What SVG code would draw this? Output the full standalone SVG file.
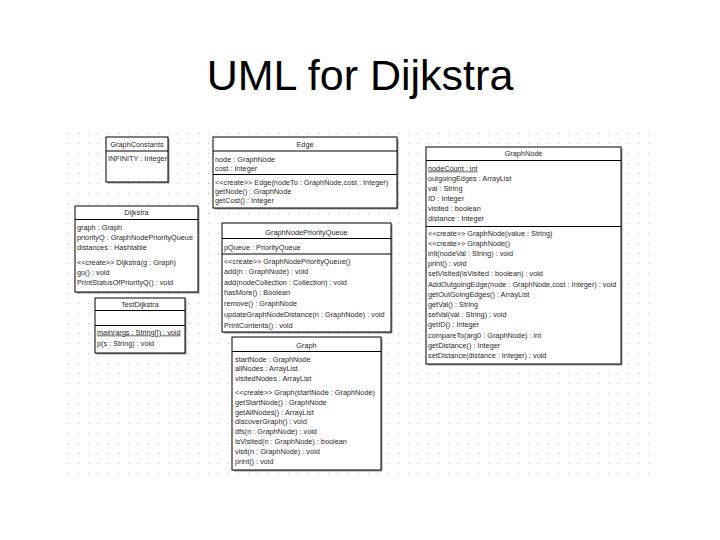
<svg xmlns="http://www.w3.org/2000/svg" width="720" height="540" viewBox="0 0 720 540">
<defs>
<pattern id="dots" x="65" y="130" width="10" height="10" patternUnits="userSpaceOnUse">
<rect x="3" y="3" width="1.2" height="1.2" fill="#bdbdbd"/>
</pattern>
<style>
.box{fill:#fff;stroke:#000;stroke-width:1}
.sh{fill:#9a9a9a}
.ln{stroke:#000;stroke-width:1}
.t{font-family:"Liberation Sans",Arial,sans-serif;font-size:7.3px;fill:#2a2a2a}
.c{text-anchor:middle}
.u{text-decoration:underline}
.h{font-family:"Liberation Sans",Arial,sans-serif;font-size:43px;fill:#000;text-anchor:middle}
</style>
</defs>
<rect width="720" height="540" fill="#fff"/>
<text class="h" x="360" y="90">UML for Dijkstra</text>
<rect x="65" y="130" width="587" height="352" fill="url(#dots)"/>

<g id="GraphConstants">
<rect class="sh" x="107.5" y="138.5" width="62" height="45"/>
<rect class="box" x="106" y="137" width="62" height="45"/>
<text class="t c" x="137" y="147">GraphConstants</text>
<line class="ln" x1="106" y1="151" x2="168" y2="151"/>
<text class="t" x="108" y="160.5">INFINITY : Integer</text>
</g>

<g id="Edge">
<rect class="sh" x="214.5" y="138.5" width="184" height="71"/>
<rect class="box" x="213" y="137" width="184" height="71"/>
<text class="t c" x="305" y="146.5">Edge</text>
<line class="ln" x1="213" y1="151" x2="397" y2="151"/>
<text class="t" x="215" y="161.5">node : GraphNode</text>
<text class="t" x="215" y="170.5">cost : Integer</text>
<line class="ln" x1="213" y1="174.5" x2="397" y2="174.5"/>
<text class="t" x="215" y="184.5">&lt;&lt;create&gt;&gt; Edge(nodeTo : GraphNode,cost : Integer)</text>
<text class="t" x="215" y="193.5">getNode() : GraphNode</text>
<text class="t" x="215" y="202.5">getCost() : Integer</text>
</g>

<g id="Dijkstra">
<rect class="sh" x="76.5" y="207.5" width="123" height="86"/>
<rect class="box" x="75" y="206" width="123" height="86"/>
<text class="t c" x="136.5" y="214.5">Dijkstra</text>
<line class="ln" x1="75" y1="219.5" x2="198" y2="219.5"/>
<text class="t" x="77" y="229.5">graph : Graph</text>
<text class="t" x="77" y="239.5">priorityQ : GraphNodePriorityQueue</text>
<text class="t" x="77" y="249.5">distances : Hashtable</text>
<text class="t" x="77" y="264.5">&lt;&lt;create&gt;&gt; Dijkstra(g : Graph)</text>
<text class="t" x="77" y="274.5">go() : void</text>
<text class="t" x="77" y="285">PrintStatusOfPriorityQ() : void</text>
</g>

<g id="TestDijkstra">
<rect class="sh" x="96.5" y="299.5" width="90" height="55"/>
<rect class="box" x="95" y="298" width="90" height="55"/>
<text class="t c" x="140" y="306.5">TestDijkstra</text>
<line class="ln" x1="95" y1="310.5" x2="185" y2="310.5"/>
<line class="ln" x1="95" y1="325.5" x2="185" y2="325.5"/>
<text class="t u" x="97" y="334.5">main(args : String[]) : void</text>
<text class="t" x="97" y="345.5">p(s : String) : void</text>
</g>

<g id="GraphNodePriorityQueue">
<rect class="sh" x="223.5" y="224.5" width="169" height="109"/>
<rect class="box" x="222" y="223" width="169" height="109"/>
<text class="t c" x="306.5" y="234.5">GraphNodePriorityQueue</text>
<line class="ln" x1="222" y1="238.5" x2="391" y2="238.5"/>
<text class="t" x="224" y="249.5">pQueue : PriorityQueue</text>
<line class="ln" x1="222" y1="254" x2="391" y2="254" stroke="#bbb"/>
<text class="t" x="224" y="263.5">&lt;&lt;create&gt;&gt; GraphNodePriorityQueue()</text>
<text class="t" x="224" y="273.5">add(n : GraphNode) : void</text>
<text class="t" x="224" y="284.5">add(nodeCollection : Collection) : void</text>
<text class="t" x="224" y="294.5">hasMore() : Boolean</text>
<text class="t" x="224" y="305.5">remove() : GraphNode</text>
<text class="t" x="224" y="316.5">updateGraphNodeDistance(n : GraphNode) : void</text>
<text class="t" x="224" y="327.5">PrintContents() : void</text>
</g>

<g id="Graph">
<rect class="sh" x="233.5" y="338.5" width="149" height="133"/>
<rect class="box" x="232" y="337" width="149" height="133"/>
<text class="t c" x="306.5" y="347.5">Graph</text>
<line class="ln" x1="232" y1="351.5" x2="381" y2="351.5"/>
<text class="t" x="235" y="361.5">startNode : GraphNode</text>
<text class="t" x="235" y="371">allNodes : ArrayList</text>
<text class="t" x="235" y="380.5">visitedNodes : ArrayList</text>
<text class="t" x="235" y="394.5">&lt;&lt;create&gt;&gt; Graph(startNode : GraphNode)</text>
<text class="t" x="235" y="404.5">getStartNode() : GraphNode</text>
<text class="t" x="235" y="414.5">getAllNodes() : ArrayList</text>
<text class="t" x="235" y="424">discoverGraph() : void</text>
<text class="t" x="235" y="434">dfs(n : GraphNode) : void</text>
<text class="t" x="235" y="444">isVisited(n : GraphNode) : boolean</text>
<text class="t" x="235" y="454">visit(n : GraphNode) : void</text>
<text class="t" x="235" y="464">print() : void</text>
</g>

<g id="GraphNode">
<rect class="sh" x="427.5" y="148.5" width="195" height="217"/>
<rect class="box" x="426" y="147" width="195" height="217"/>
<text class="t c" x="523.5" y="156">GraphNode</text>
<line class="ln" x1="426" y1="160.5" x2="621" y2="160.5"/>
<text class="t u" x="428" y="170.5">nodeCount : int</text>
<text class="t" x="428" y="180.5">outgoingEdges : ArrayList</text>
<text class="t" x="428" y="190.5">val : String</text>
<text class="t" x="428" y="200.5">ID : Integer</text>
<text class="t" x="428" y="210.5">visited : boolean</text>
<text class="t" x="428" y="220.5">distance : Integer</text>
<line class="ln" x1="426" y1="226.5" x2="621" y2="226.5"/>
<text class="t" x="428" y="235.5">&lt;&lt;create&gt;&gt; GraphNode(value : String)</text>
<text class="t" x="428" y="245.7">&lt;&lt;create&gt;&gt; GraphNode()</text>
<text class="t" x="428" y="255.9">init(nodeVal : String) : void</text>
<text class="t" x="428" y="266.1">print() : void</text>
<text class="t" x="428" y="276.3">setVisited(isVisited : boolean) : void</text>
<text class="t" x="428" y="286.5">AddOutgoingEdge(node : GraphNode,cost : Integer) : void</text>
<text class="t" x="428" y="296.7">getOutGoingEdges() : ArrayList</text>
<text class="t" x="428" y="306.9">getVal() : String</text>
<text class="t" x="428" y="317.1">setVal(val : String) : void</text>
<text class="t" x="428" y="327.3">getID() : Integer</text>
<text class="t" x="428" y="337.5">compareTo(arg0 : GraphNode) : int</text>
<text class="t" x="428" y="347.7">getDistance() : Integer</text>
<text class="t" x="428" y="357.9">setDistance(distance : Integer) : void</text>
</g>

<g id="connectors"></g>
</svg>
